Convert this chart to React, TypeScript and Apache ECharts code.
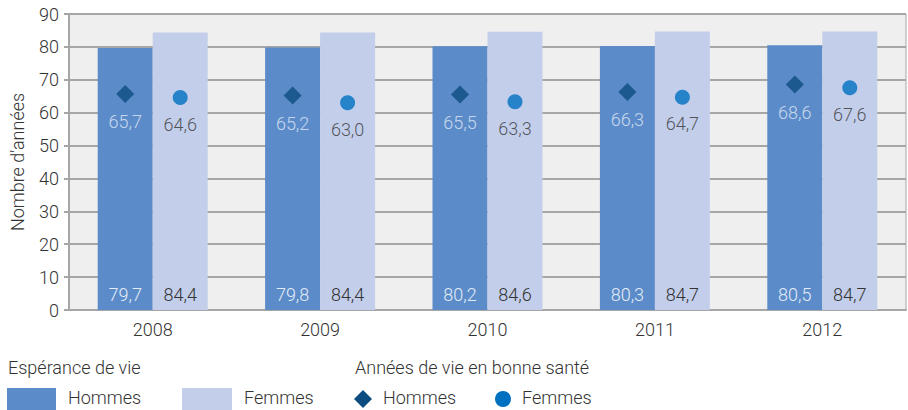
import React, { useEffect, useRef } from "react";
import * as echarts from "echarts";

const years = ["2008", "2009", "2010", "2011", "2012"];
const lifeMen = [79.7, 79.8, 80.2, 80.3, 80.5];
const lifeWomen = [84.4, 84.4, 84.6, 84.7, 84.7];
const healthyMen = [65.7, 65.2, 65.5, 66.3, 68.6];
const healthyWomen = [64.6, 63.0, 63.3, 64.7, 67.6];

const FONT = "Roboto";
const FS = 18;
const fmt = (v: number) => v.toFixed(1).replace(".", ",");

export default function App() {
  const ref = useRef<HTMLDivElement>(null);
  useEffect(() => {
    const chart = echarts.init(ref.current!, null, { renderer: "svg" });
    const barW = 55;
    const labelFont = { fontFamily: FONT, fontSize: FS, fontWeight: 300 as any };
    const gfont = `300 ${FS}px ${FONT}`;
    chart.setOption({
      animation: false,
      textStyle: { fontFamily: FONT },
      grid: {
        left: 66,
        right: 2,
        top: 14,
        bottom: 100,
        show: true,
        backgroundColor: "#efefef",
        borderColor: "#a6a6a6",
        borderWidth: 1,
      },
      xAxis: {
        type: "category",
        data: years,
        axisLine: { lineStyle: { color: "#a6a6a6", width: 2 } },
        axisTick: { show: false },
        axisLabel: { color: "#333", margin: 10, ...labelFont },
      },
      yAxis: {
        type: "value",
        min: 0,
        max: 90,
        interval: 10,
        name: "Nombre d'années",
        nameLocation: "middle",
        nameGap: 43,
        nameTextStyle: { color: "#333", ...labelFont },
        axisLine: { show: true, lineStyle: { color: "#a6a6a6", width: 2 } },
        axisTick: { show: true, length: 5, lineStyle: { color: "#a6a6a6", width: 2 } },
        axisLabel: { color: "#333", margin: 10, ...labelFont },
        splitLine: { lineStyle: { color: "#a6a6a6", width: 2 } },
      },
      series: [
        {
          type: "bar",
          name: "Espérance Hommes",
          data: lifeMen,
          barWidth: barW,
          barGap: "0%",
          itemStyle: { color: "#5b8bc9" },
          label: {
            show: true,
            position: "insideBottom",
            distance: 7,
            color: "#e3ebf7",
            formatter: (p: any) => fmt(p.value),
            ...labelFont,
          },
        },
        {
          type: "bar",
          name: "Espérance Femmes",
          data: lifeWomen,
          barWidth: barW,
          barGap: "0%",
          itemStyle: { color: "#c3ceeb" },
          label: {
            show: true,
            position: "insideBottom",
            distance: 7,
            color: "#333",
            formatter: (p: any) => fmt(p.value),
            ...labelFont,
          },
        },
        {
          type: "scatter",
          name: "Santé Hommes",
          data: healthyMen,
          symbol: "diamond",
          symbolSize: 18,
          symbolOffset: [-barW / 2, 0],
          itemStyle: { color: "#0d4c80" },
          label: {
            show: true,
            position: "bottom",
            distance: 10,
            color: "#e3ebf7",
            formatter: (p: any) => fmt(p.value),
            ...labelFont,
          },
          z: 5,
        },
        {
          type: "scatter",
          name: "Santé Femmes",
          data: healthyWomen,
          symbol: "circle",
          symbolSize: 15,
          symbolOffset: [barW / 2, 0],
          itemStyle: { color: "#0070c0" },
          label: {
            show: true,
            position: "bottom",
            distance: 10,
            color: "#333",
            formatter: (p: any) => fmt(p.value),
            ...labelFont,
          },
          z: 5,
        },
      ],
      graphic: [
        { type: "text", left: 8, top: 358, style: { text: "Espérance de vie", fill: "#333", font: gfont } },
        { type: "text", left: 355, top: 358, style: { text: "Années de vie en bonne santé", fill: "#333", font: gfont } },
        { type: "rect", shape: { x: 7, y: 388, width: 49, height: 22 }, style: { fill: "#5b8bc9" } },
        { type: "text", left: 68, top: 388, style: { text: "Hommes", fill: "#333", font: gfont } },
        { type: "rect", shape: { x: 182, y: 388, width: 50, height: 22 }, style: { fill: "#c3ceeb" } },
        { type: "text", left: 244, top: 388, style: { text: "Femmes", fill: "#333", font: gfont } },
        { type: "polygon", shape: { points: [[363, 390], [372, 399], [363, 408], [354, 399]] }, style: { fill: "#0d4c80" } },
        { type: "text", left: 383, top: 388, style: { text: "Hommes", fill: "#333", font: gfont } },
        { type: "circle", shape: { cx: 503, cy: 399, r: 8 }, style: { fill: "#0070c0" } },
        { type: "text", left: 522, top: 388, style: { text: "Femmes", fill: "#333", font: gfont } },
      ],
    });
    return () => chart.dispose();
  }, []);
  return <div ref={ref} style={{ width: 908, height: 410, position: "absolute", left: 0, top: 0 }} />;
}
